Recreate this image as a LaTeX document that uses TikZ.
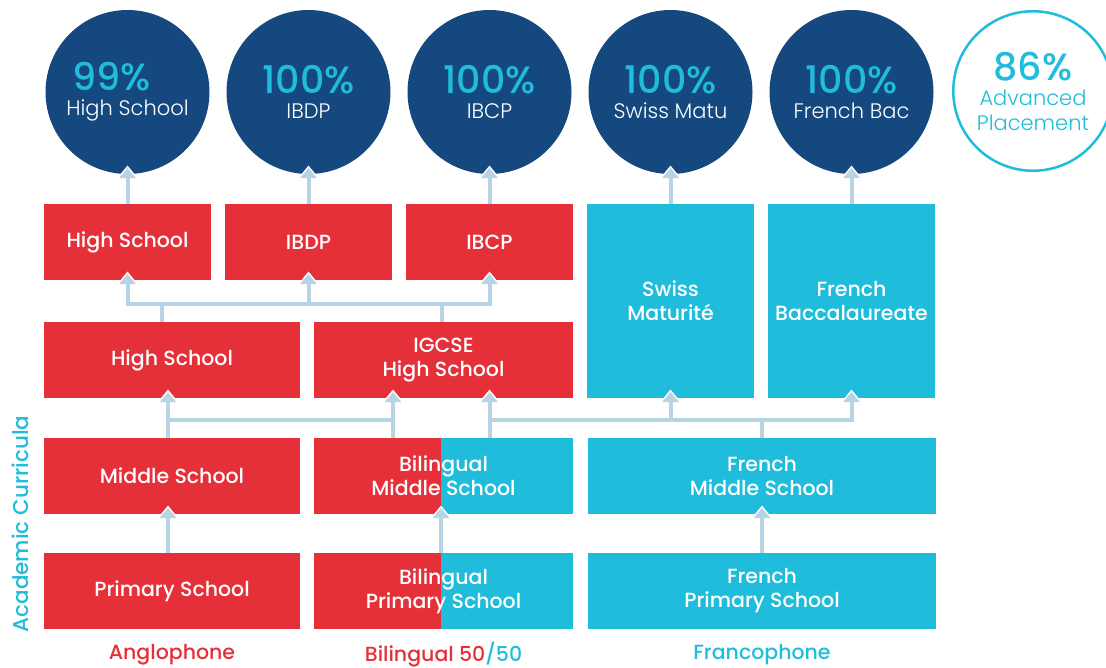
\documentclass[tikz,border=0pt]{standalone}
\usepackage{fontspec}
\setmainfont{Poppins}
\newfontfamily\medfont{Poppins Medium}
\newfontfamily\lightfont{Poppins Light}
\usetikzlibrary{arrows.meta}
\definecolor{rojo}{HTML}{E63039}
\definecolor{cian}{HTML}{1FBDDB}
\definecolor{azul}{HTML}{15487F}
\definecolor{lineaazul}{HTML}{B7D4E4}
\newcommand{\pct}[1]{{\medfont\fontsize{38}{30}\selectfont\textcolor{cian}{#1}}}

\begin{document}
\begin{tikzpicture}[x=1pt, y=-1pt,
  caja/.style={rectangle, fill=#1, minimum height=76pt, inner sep=0pt, outer sep=0pt,
    text=white, align=center, font=\medfont\fontsize{20.5}{24}\selectfont},
  bilingue/.style={caja=cian, path picture={\fill[rojo] (path picture bounding box.south west)
    rectangle ([xshift=-3pt]path picture bounding box.north);}},
  resultado/.style={circle, fill=azul, minimum size=164pt, inner sep=0pt, outer sep=0pt,
    text=white, align=center, font=\lightfont\fontsize{21}{25}\selectfont},
  etiqueta/.style={font=\medfont\fontsize{20.5}{24}\selectfont},
  linea/.style={draw=lineaazul, line width=4pt},
  flecha/.style={linea, -{Triangle[width=16pt, length=10pt]}, shorten >=-6pt,
    preaction={draw=white, -{Triangle[width=22pt, length=14pt]}, shorten >=-8.5pt}}
]
\useasboundingbox (0,0) rectangle (1106,667);

% Resultados
\node[resultado] (R1) at (127.5,92) {\pct{99\%}\kern32pt\\High School};
\node[resultado] (R2) at (308.5,92) {\pct{100\%}\\IBDP};
\node[resultado] (R3) at (489.5,92) {\pct{100\%}\\IBCP};
\node[resultado] (R4) at (670.5,92) {\pct{100\%}\\Swiss Matu};
\node[resultado] (R5) at (851.5,92) {\pct{100\%}\\French Bac};
\node[resultado, fill=white, draw=cian, line width=2.5pt, text=cian, minimum size=159.5pt] (R6) at (1033,91)
  {\pct{86\%}\\Advanced\\Placement};

% Diplomas
\node[caja=rojo, minimum width=167pt] (A1) at (127.5,242) {High School};
\node[caja=rojo, minimum width=167pt] (A2) at (308.5,242) {IBDP};
\node[caja=rojo, minimum width=167pt] (A3) at (489.5,242) {IBCP};
\node[caja=cian, minimum width=167pt, minimum height=194pt] (S1) at (670.5,301) {Swiss\\Maturité};
\node[caja=cian, minimum width=167pt, minimum height=194pt] (S2) at (851.5,301) {French\\Baccalaureate};

% Secundaria
\node[caja=rojo, minimum width=256pt] (B1) at (172,360) {High School};
\node[caja=rojo, minimum width=259pt] (B2) at (443.5,360) {IGCSE\\High School};

% Media
\node[caja=rojo, minimum width=256pt] (C1) at (172,476) {Middle School};
\node[bilingue, minimum width=259pt] (C2) at (443.5,476) {Bilingual\\Middle School};
\node[caja=cian, minimum width=348pt] (C3) at (762,476) {French\\Middle School};

% Primaria
\node[caja=rojo, minimum width=256pt] (D1) at (172,591) {Primary School};
\node[bilingue, minimum width=259pt] (D2) at (443.5,591) {Bilingual\\Primary School};
\node[caja=cian, minimum width=348pt] (D3) at (762,591) {French\\Primary School};

% Etiquetas
\node[etiqueta, text=rojo] (L1) at (172,655) {Anglophone};
\node[etiqueta, text=rojo] (L2) at (443.5,655) {Bilingual 50\textcolor{cian}{/50}};
\node[etiqueta, text=cian] (L3) at (762,655) {Francophone};
\node[etiqueta, text=cian, rotate=90, font=\medfont\fontsize{21.5}{24}\selectfont] (eje) at (20,524) {Academic Curricula};

% Niveles de conexion
\coordinate (hAB) at (0,304);
\coordinate (hBC) at (0,420);

% Diplomas hacia resultados
\draw[flecha] (A1.north) -- (R1.south);
\draw[flecha] (A2.north) -- (R2.south);
\draw[flecha] (A3.north) -- (R3.south);
\draw[flecha] (S1.north) -- (R4.south);
\draw[flecha] (S2.north) -- (R5.south);

% Secundaria hacia diplomas
\draw[flecha] ([xshift=-10pt]B1.north) |- (A1.south |- hAB) -- (A1.south);
\draw[flecha] ([xshift=-10pt]B1.north) |- (A2.south |- hAB) -- (A2.south);
\draw[flecha] ([xshift=-10pt]B1.north) |- (A3.south |- hAB) -- (A3.south);
\draw[linea] ([xshift=-1.5pt]B2.north) -- ([xshift=-1.5pt]B2.north |- hAB);

% Media hacia secundaria
\draw[flecha] ([xshift=-4pt]C1.north) -- ([xshift=-4pt]B1.south);
\draw[flecha] ([xshift=-4pt]C1.north) |- ([xshift=-50.5pt]B2.south |- hBC) -- ([xshift=-50.5pt]B2.south);
\draw[linea] ([xshift=-50.5pt]C2.north) -- ([xshift=-50.5pt]B2.south |- hBC);
\draw[linea] (A3.south |- C2.north) -- (A3.south |- hBC);
\draw[flecha] (C3.north) |- (A3.south |- hBC) -- (A3.south |- B2.south);
\draw[flecha] (C3.north) |- (S1.south |- hBC) -- (S1.south);
\draw[flecha] (C3.north) |- (S2.south |- hBC) -- (S2.south);

% Primaria hacia media
\draw[flecha] ([xshift=-4pt]D1.north) -- ([xshift=-4pt]C1.south);
\draw[flecha] ([xshift=-2.5pt]D2.north) -- ([xshift=-2.5pt]C2.south);
\draw[flecha] (D3.north) -- (C3.south);

\end{tikzpicture}
\end{document}
